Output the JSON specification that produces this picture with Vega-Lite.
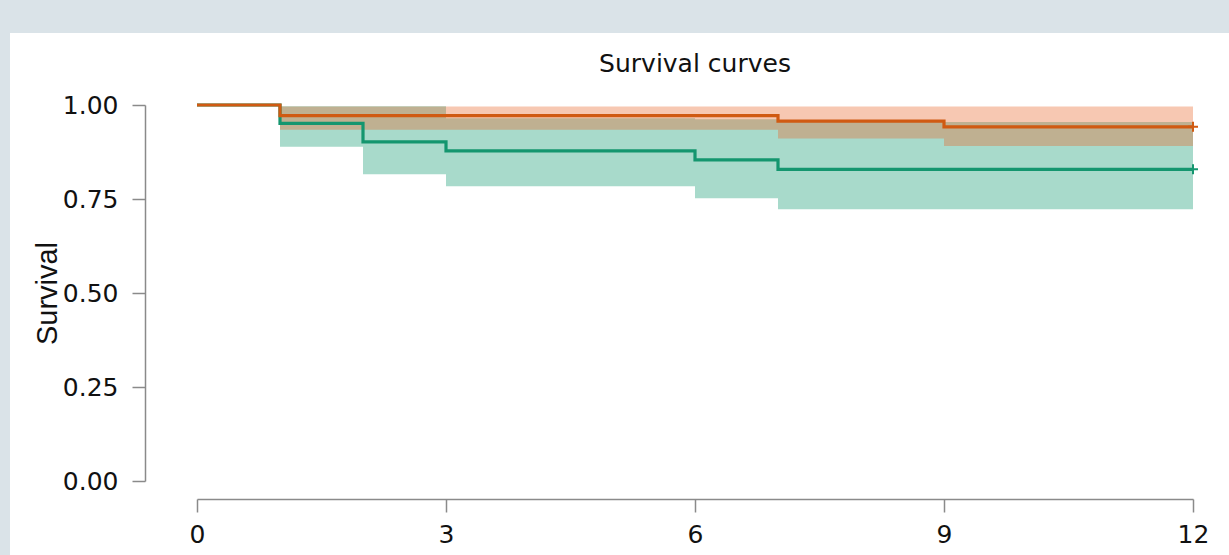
{
  "$schema": "https://vega.github.io/schema/vega-lite/v6.json",
  "width": 1219,
  "height": 522,
  "autosize": {"type": "none"},
  "padding": {"left": 10, "top": 33, "right": 0, "bottom": 0},
  "background": "#dae3e8",
  "config": {"view": {"fill": "white", "stroke": null}, "font": "DejaVu Sans"},
  "title": {"text": "Survival curves", "fontSize": 25, "font": "DejaVu Sans", "fontWeight": "normal", "color": "#111111", "anchor": "middle", "frame": "group", "dx": 75.5, "offset": -64, "baseline": "alphabetic"},
  "data": {"values": [
    {"group": "Control", "time": 0, "surv": 1, "lower": 1, "upper": 1},
    {"group": "Control", "time": 1, "surv": 0.951, "lower": 0.889, "upper": 0.997},
    {"group": "Control", "time": 2, "surv": 0.902, "lower": 0.816, "upper": 0.997},
    {"group": "Control", "time": 3, "surv": 0.878, "lower": 0.784, "upper": 0.965},
    {"group": "Control", "time": 6, "surv": 0.854, "lower": 0.752, "upper": 0.962},
    {"group": "Control", "time": 7, "surv": 0.829, "lower": 0.723, "upper": 0.955},
    {"group": "Control", "time": 12, "surv": 0.829, "lower": 0.723, "upper": 0.955},
    {"group": "Treatment", "time": 0, "surv": 1, "lower": 1, "upper": 1},
    {"group": "Treatment", "time": 1, "surv": 0.972, "lower": 0.934, "upper": 0.996},
    {"group": "Treatment", "time": 7, "surv": 0.957, "lower": 0.911, "upper": 0.996},
    {"group": "Treatment", "time": 9, "surv": 0.942, "lower": 0.891, "upper": 0.996},
    {"group": "Treatment", "time": 12, "surv": 0.942, "lower": 0.891, "upper": 0.996}
  ]},
  "encoding": {
    "x": {"field": "time", "type": "quantitative",
      "scale": {"domain": [0, 12], "range": [187, 1183], "nice": false, "zero": false},
      "axis": {"orient": "bottom", "offset": -56, "values": [0, 3, 6, 9, 12], "grid": false, "title": null, "labelFlush": false,
        "tickSize": 13, "tickWidth": 1.5, "tickColor": "#8a8a8a", "domainColor": "#8a8a8a", "domainWidth": 1.5,
        "labelPadding": 10, "labelFontSize": 25, "labelFont": "DejaVu Sans", "labelColor": "#111111"}},
    "y": {"field": "surv", "type": "quantitative",
      "scale": {"domain": [0, 1], "range": [448, 72], "nice": false, "zero": false},
      "axis": {"orient": "left", "offset": -135, "values": [0, 0.25, 0.5, 0.75, 1], "format": ".2f", "grid": false, "labelFlush": false,
        "tickSize": 13, "tickWidth": 1.5, "tickColor": "#8a8a8a", "domainColor": "#8a8a8a", "domainWidth": 1.5,
        "labelPadding": 14, "labelFontSize": 25, "labelFont": "DejaVu Sans", "labelColor": "#111111",
        "title": "Survival", "titleFont": "Liberation Sans", "titleFontSize": 29, "titleFontWeight": "normal",
        "titleColor": "#111111", "titlePadding": 0}}
  },
  "layer": [
    {"transform": [{"filter": "datum.group === 'Control'"}],
     "mark": {"type": "area", "interpolate": "step-after", "color": "#1b9e77", "opacity": 0.38},
     "encoding": {"y": {"field": "lower", "type": "quantitative"}, "y2": {"field": "upper"}}},
    {"transform": [{"filter": "datum.group === 'Treatment'"}],
     "mark": {"type": "area", "interpolate": "step-after", "color": "#e8662a", "opacity": 0.36},
     "encoding": {"y": {"field": "lower", "type": "quantitative"}, "y2": {"field": "upper"}}},
    {"transform": [{"filter": "datum.group === 'Control'"}],
     "mark": {"type": "line", "interpolate": "step-after", "color": "#14966f", "strokeWidth": 3.2},
     "encoding": {}},
    {"transform": [{"filter": "datum.group === 'Treatment'"}],
     "mark": {"type": "line", "interpolate": "step-after", "color": "#d05a12", "strokeWidth": 3.2},
     "encoding": {}},
    {"transform": [{"filter": "datum.time === 12"}],
     "mark": {"type": "point", "shape": "M-1,0H1M0,-1V1", "filled": false, "size": 100, "strokeWidth": 2, "opacity": 1},
     "encoding": {"color": {"field": "group", "type": "nominal", "scale": {"domain": ["Control", "Treatment"], "range": ["#14966f", "#d05a12"]}, "legend": null}}}
  ]
}
